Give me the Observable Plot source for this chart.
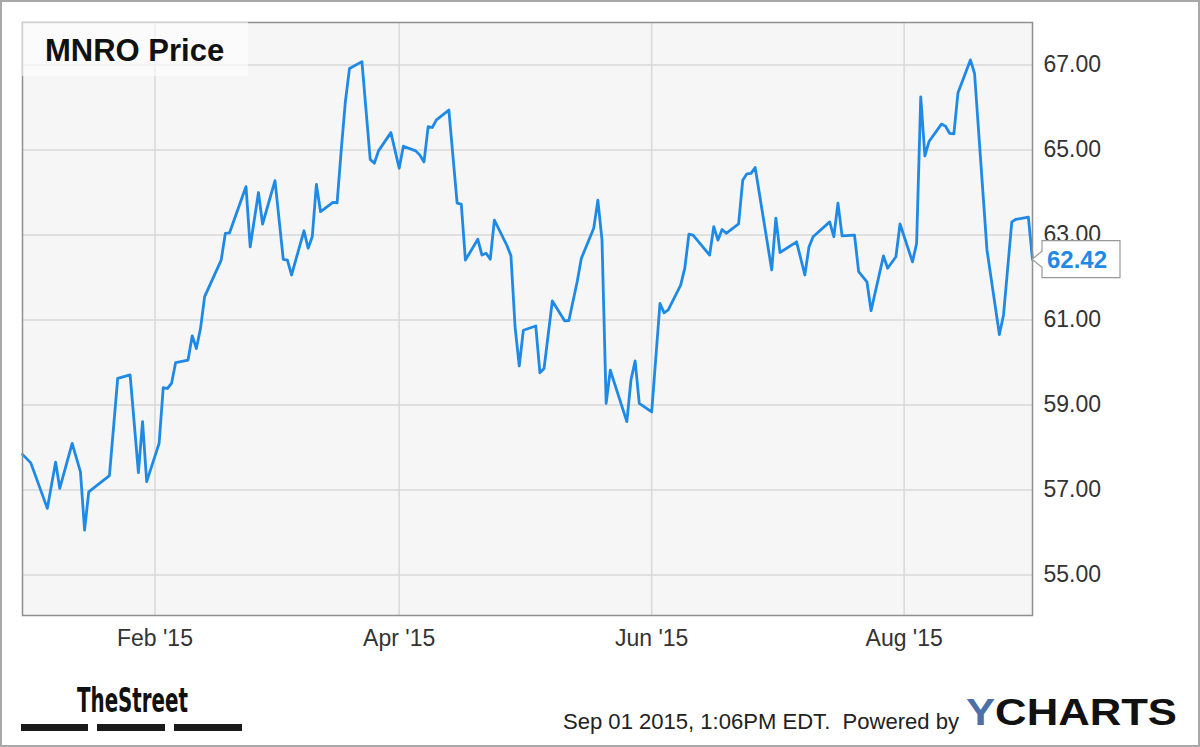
<!DOCTYPE html>
<html>
<head>
<meta charset="utf-8">
<script src="https://cdn.jsdelivr.net/npm/d3@7"></script>
<script src="https://cdn.jsdelivr.net/npm/@observablehq/plot@0.6"></script>
<style>
  html, body { margin: 0; padding: 0; background: #fff; }
  #chart { width: 1200px; height: 747px; }
</style>
</head>
<body>
<div id="chart"></div>
<script>
const titleText = "MNRO Price";
const lastLabel = "62.42";
const footerDate = "Sep 01 2015, 1:06PM EDT.  Powered by";
const brandLeft = "TheStreet";

const xTickDates = ["2015-02-01", "2015-04-01", "2015-06-01", "2015-08-01"];
const yTicks = [55, 57, 59, 61, 63, 65, 67];

const dates = [
  "2014-12-31","2015-01-02","2015-01-06","2015-01-08","2015-01-09","2015-01-12","2015-01-14","2015-01-15","2015-01-16","2015-01-21",
  "2015-01-23","2015-01-26","2015-01-28","2015-01-29","2015-01-30","2015-02-02","2015-02-03","2015-02-04","2015-02-05","2015-02-06",
  "2015-02-09","2015-02-10","2015-02-11","2015-02-12","2015-02-13","2015-02-17","2015-02-18","2015-02-19","2015-02-23","2015-02-24",
  "2015-02-26","2015-02-27","2015-03-02","2015-03-04","2015-03-05","2015-03-06","2015-03-09","2015-03-10","2015-03-11","2015-03-12",
  "2015-03-13","2015-03-16","2015-03-17","2015-03-18","2015-03-19","2015-03-20","2015-03-23","2015-03-25","2015-03-26","2015-03-27",
  "2015-03-30","2015-04-01","2015-04-02","2015-04-05","2015-04-06","2015-04-07","2015-04-08","2015-04-09","2015-04-10","2015-04-13",
  "2015-04-15","2015-04-16","2015-04-17","2015-04-20","2015-04-21","2015-04-22","2015-04-23","2015-04-24","2015-04-27","2015-04-28",
  "2015-04-29","2015-04-30","2015-05-01","2015-05-04","2015-05-05","2015-05-06","2015-05-08","2015-05-11","2015-05-12","2015-05-14",
  "2015-05-15","2015-05-18","2015-05-19","2015-05-20","2015-05-21","2015-05-22","2015-05-26","2015-05-27","2015-05-28","2015-05-29",
  "2015-06-01","2015-06-03","2015-06-04","2015-06-05","2015-06-08","2015-06-09","2015-06-10","2015-06-11","2015-06-15","2015-06-16",
  "2015-06-17","2015-06-18","2015-06-19","2015-06-22","2015-06-23","2015-06-24","2015-06-25","2015-06-26","2015-06-30","2015-07-01",
  "2015-07-02","2015-07-06","2015-07-08","2015-07-09","2015-07-10","2015-07-14","2015-07-15","2015-07-16","2015-07-17","2015-07-20",
  "2015-07-21","2015-07-23","2015-07-24","2015-07-27","2015-07-28","2015-07-30","2015-07-31","2015-08-03","2015-08-04","2015-08-05",
  "2015-08-06","2015-08-07","2015-08-10","2015-08-11","2015-08-12","2015-08-13","2015-08-14","2015-08-17","2015-08-18","2015-08-21",
  "2015-08-24","2015-08-25","2015-08-27","2015-08-28","2015-08-31","2015-09-01"
];

const prices = [
  57.84, 57.64, 56.57, 57.66, 57.04, 58.10, 57.43, 56.06, 56.96, 57.34,
  59.63, 59.71, 57.41, 58.61, 57.20, 58.10, 59.41, 59.39, 59.51, 60.00,
  60.06, 60.63, 60.33, 60.80, 61.55, 62.41, 63.04, 63.05, 64.14, 62.72,
  64.00, 63.26, 64.28, 62.43, 62.41, 62.06, 63.10, 62.69, 62.96, 64.19,
  63.55, 63.77, 63.76, 65.00, 66.14, 66.92, 67.08, 64.78, 64.69, 64.98,
  65.41, 64.57, 65.09, 64.98, 64.88, 64.72, 65.55, 65.53, 65.71, 65.94,
  63.75, 63.73, 62.41, 62.90, 62.53, 62.57, 62.43, 63.35, 62.76, 62.51,
  60.84, 59.92, 60.76, 60.86, 59.76, 59.86, 61.45, 60.98, 60.99, 61.90,
  62.45, 63.16, 63.82, 62.88, 59.04, 59.82, 58.61, 59.59, 60.04, 59.04,
  58.84, 61.39, 61.17, 61.24, 61.82, 62.22, 63.02, 63.00, 62.53, 63.20,
  62.88, 63.13, 63.04, 63.26, 64.29, 64.44, 64.45, 64.59, 62.18, 63.40,
  62.59, 62.84, 62.06, 62.72, 62.96, 63.31, 62.96, 63.75, 62.98, 63.00,
  62.14, 61.90, 61.22, 62.51, 62.22, 62.49, 63.26, 62.37, 62.80, 66.25,
  64.86, 65.20, 65.61, 65.56, 65.39, 65.38, 66.35, 67.12, 66.80, 62.65,
  60.66, 61.12, 63.31, 63.37, 63.42, 62.42
];

const parse = d3.utcParse("%Y-%m-%d");
const data = dates.map((d, i) => ({date: parse(d), price: prices[i]}));
const xTicks = xTickDates.map(parse);
const lineColor = "#1f8ae6";
const fontFam = "'Liberation Sans', Arial, Helvetica, sans-serif";

const chart = Plot.plot({
  width: 1200,
  height: 747,
  marginLeft: 22,
  marginRight: 168,
  marginTop: 22,
  marginBottom: 132,
  style: {fontFamily: fontFam, background: "#fff", color: "#333"},
  x: {type: "utc", domain: [data[0].date, data[data.length - 1].date]},
  y: {domain: [54.05, 68.0]},
  marks: [
    Plot.frame({fill: "#f6f6f6", stroke: "none"}),
    Plot.gridX(xTicks, {stroke: "#d9d9d9", strokeOpacity: 1, strokeWidth: 1.5}),
    Plot.gridY(yTicks, {stroke: "#d9d9d9", strokeOpacity: 1, strokeWidth: 1.5}),
    Plot.axisX({ticks: xTicks, tickFormat: d3.utcFormat("%b '%y"), tickSize: 0, tickPadding: 14, fontSize: 23, fill: "#333", label: null}),
    Plot.axisY({anchor: "right", ticks: yTicks, tickFormat: d => d.toFixed(2), tickSize: 0, tickPadding: 11, fontSize: 23, fill: "#333", label: null}),
    Plot.line(data, {x: "date", y: "price", stroke: lineColor, strokeWidth: 2.8, strokeLinejoin: "round"}),
    Plot.frame({stroke: "#8f8f8f", strokeWidth: 1.5})
  ]
});

document.getElementById("chart").appendChild(chart);

const svg = d3.select(chart);
const xs = chart.scale("x");
const ys = chart.scale("y");
const last = data[data.length - 1];
const tipX = xs.apply(last.date);
const tipY = ys.apply(last.price);

const g = svg.append("g").attr("text-anchor", "start").style("text-anchor", "start");

// title box
g.append("rect").attr("x", 22).attr("y", 22).attr("width", 226).attr("height", 54)
  .attr("fill", "#fff").attr("fill-opacity", 0.6);
g.append("text").attr("x", 45).attr("y", 61).text(titleText)
  .attr("font-family", fontFam).attr("font-weight", "bold").attr("font-size", 31).attr("fill", "#111");

// last value callout
const bx = tipX + 10;
const bw = 78, bh = 37;
g.append("path")
  .attr("d", `M${tipX},${tipY} L${bx},${tipY - 8} L${bx},${tipY - bh / 2} L${bx + bw},${tipY - bh / 2} L${bx + bw},${tipY + bh / 2} L${bx},${tipY + bh / 2} L${bx},${tipY + 8} Z`)
  .attr("fill", "#fff").attr("stroke", "#999").attr("stroke-width", 1.2);
g.append("text").attr("x", bx + 5).attr("y", tipY + 9).text(lastLabel)
  .attr("font-family", fontFam).attr("font-weight", "bold").attr("font-size", 24).attr("fill", lineColor);

// footer: TheStreet logo
g.append("text").attr("x", 77).attr("y", 712).text(brandLeft)
  .attr("font-family", "'Liberation Sans Narrow', 'DejaVu Sans Condensed', " + fontFam)
  .attr("font-weight", "bold").attr("font-size", 33).attr("fill", "#111")
  .attr("textLength", 111).attr("lengthAdjust", "spacingAndGlyphs");
[[21, 67], [97, 68], [174, 68]].forEach(([x, w]) => {
  g.append("rect").attr("x", x).attr("y", 724).attr("width", w).attr("height", 7).attr("fill", "#1a1a1a");
});

// footer: timestamp and YCHARTS
g.append("text").attr("x", 563).attr("y", 729).text(footerDate)
  .attr("font-family", fontFam).attr("font-size", 22).attr("fill", "#222")
  .attr("textLength", 396).attr("lengthAdjust", "spacingAndGlyphs")
  .style("white-space", "pre");
const yc = g.append("text").attr("x", 966).attr("y", 725)
  .attr("font-family", fontFam).attr("font-weight", "bold").attr("font-size", 37)
  .attr("textLength", 211).attr("lengthAdjust", "spacingAndGlyphs");
yc.append("tspan").attr("fill", "#4d6fa8").text("Y");
yc.append("tspan").attr("fill", "#111").text("CHARTS");

// outer border
g.append("rect").attr("x", 1).attr("y", 1).attr("width", 1198).attr("height", 745)
  .attr("fill", "none").attr("stroke", "#a8a8a8").attr("stroke-width", 2);
</script>
</body>
</html>
